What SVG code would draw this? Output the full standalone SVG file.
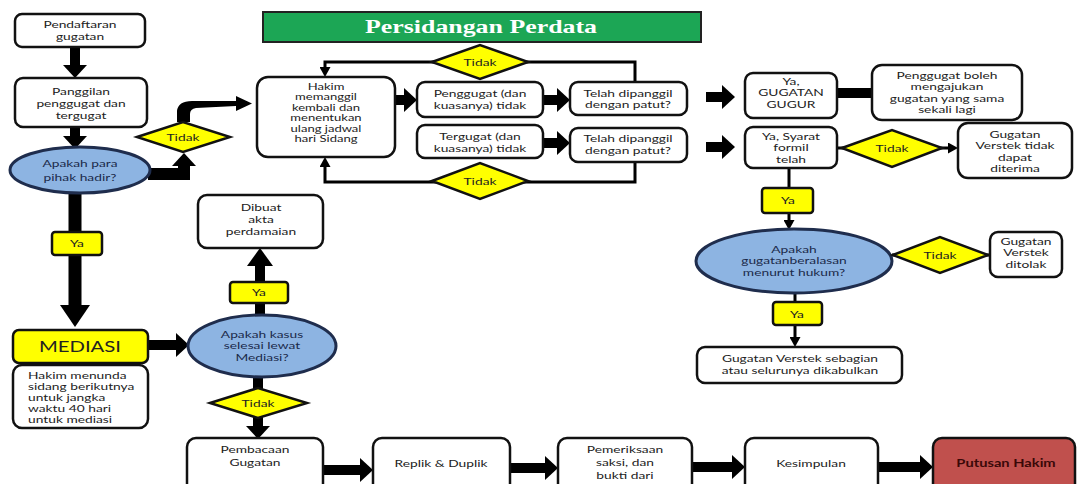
<svg xmlns="http://www.w3.org/2000/svg" width="1078" height="484" viewBox="0 0 1078 484">
<style>
.b{fill:#fff;stroke:#111;stroke-width:2.5}
.y{fill:#ffff00;stroke:#111;stroke-width:2.5}
.e{fill:#8db4e2;stroke:#1f2d4d;stroke-width:3}
.t{font-family:Lato,"Open Sans","DejaVu Sans",sans-serif;font-size:9.5px;fill:#222;text-anchor:middle}
.tl{text-anchor:start}
.te{fill:#1b2a4a}
.sm{font-size:8.7px}
.k{fill:none;stroke:#000;stroke-width:10}
.n{fill:none;stroke:#000;stroke-width:3}
</style>
<defs>
<marker id="hA" markerUnits="userSpaceOnUse" markerWidth="13" markerHeight="24" refX="0" refY="12" orient="auto"><path d="M0,0 L13,12 L0,24 z" fill="#000"/></marker>
<marker id="hB" markerUnits="userSpaceOnUse" markerWidth="22" markerHeight="30" refX="0" refY="15" orient="auto"><path d="M0,0 L22,15 L0,30 z" fill="#000"/></marker>
<marker id="hC" markerUnits="userSpaceOnUse" markerWidth="18" markerHeight="26" refX="0" refY="13" orient="auto"><path d="M0,0 L18,13 L0,26 z" fill="#000"/></marker>
<marker id="hT" markerUnits="userSpaceOnUse" markerWidth="10" markerHeight="11" refX="0" refY="5.5" orient="auto"><path d="M0,0 L10,5.5 L0,11 z" fill="#000"/></marker>
</defs>
<rect width="1078" height="484" fill="#fff"/>

<g id="connectors">
<line class="k" x1="75" y1="47" x2="75" y2="65" marker-end="url(#hA)"/>
<line class="k" x1="75" y1="127" x2="75" y2="136" marker-end="url(#hA)"/>
<path d="M148,174 H184 V166" fill="none" stroke="#000" stroke-width="12" marker-end="url(#hA)"/>
<path d="M177,122 L177,111 Q178,101 192,101 L236,101 L236,96 L252,103.5 L236,111 L236,106 L196,108 Q190,109 190,114 L190,122 Z" fill="#000"/>
<line x1="75" y1="193" x2="75" y2="305" stroke="#000" stroke-width="13" marker-end="url(#hB)"/>
<line class="k" x1="148" y1="345" x2="176" y2="345" stroke-width="9" marker-end="url(#hA)"/>
<line class="k" x1="260" y1="315" x2="260" y2="266" marker-end="url(#hC)"/>
<line class="k" x1="258" y1="377" x2="258" y2="426" marker-end="url(#hA)"/>
<line class="k" x1="323" y1="470" x2="360" y2="470" stroke-width="9" marker-end="url(#hA)"/>
<line class="k" x1="510" y1="468" x2="545" y2="468" stroke-width="9" marker-end="url(#hA)"/>
<line class="k" x1="692" y1="467" x2="732" y2="467" stroke-width="9" marker-end="url(#hA)"/>
<line class="k" x1="878" y1="467" x2="920" y2="467" stroke-width="9" marker-end="url(#hA)"/>
<line class="k" x1="395" y1="100" x2="404" y2="100" stroke-width="9" marker-end="url(#hA)"/>
<line class="k" x1="543" y1="100" x2="557" y2="100" stroke-width="9" marker-end="url(#hA)"/>
<line class="k" x1="543" y1="143" x2="557" y2="143" stroke-width="9" marker-end="url(#hA)"/>
<path class="n" d="M635,82 V62 H325 V67" marker-end="url(#hT)"/>
<path class="n" d="M635,162 V182 H325 V167" marker-end="url(#hT)"/>
<line class="k" x1="706" y1="97" x2="722" y2="97" stroke-width="9" marker-end="url(#hA)"/>
<line class="k" x1="706" y1="147" x2="722" y2="147" stroke-width="9" marker-end="url(#hA)"/>
<line class="k" x1="837" y1="93" x2="872" y2="93"/>
<line class="n" x1="837" y1="148" x2="948" y2="148" marker-end="url(#hT)"/>
<line class="n" x1="789" y1="168" x2="789" y2="220" marker-end="url(#hT)"/>
<line class="n" x1="892" y1="255" x2="990" y2="255"/>
<line class="n" x1="795" y1="293" x2="795" y2="337" marker-end="url(#hT)"/>
</g>

<g id="title">
<rect x="263" y="12" width="438" height="30" fill="#1ca655" stroke="#222" stroke-width="2"/>
<text x="481" y="33" font-family="'Liberation Serif',serif" font-weight="bold" font-size="19" fill="#fff" text-anchor="middle" textLength="232" lengthAdjust="spacingAndGlyphs">Persidangan Perdata</text>
</g>

<g id="pendaftaran">
<rect class="b" x="15" y="14" width="130" height="33" rx="7"/>
<g class="t" transform="translate(80 0) scale(1.45 1)">
<text y="28">Pendaftaran</text>
<text y="40">gugatan</text>
</g>
</g>

<g id="panggilan">
<rect class="b" x="15" y="78" width="132" height="49" rx="8"/>
<g class="t" transform="translate(81 0) scale(1.45 1)">
<text y="95">Panggilan</text>
<text y="107">penggugat dan</text>
<text y="119">tergugat</text>
</g>
</g>

<g id="hadir">
<ellipse class="e" cx="80" cy="170" rx="70" ry="23"/>
<g class="t te" transform="translate(80 0) scale(1.45 1)">
<text y="167">Apakah para</text>
<text y="181">pihak hadir?</text>
</g>
</g>

<g id="tidak1">
<polygon class="y" points="137,137 183,122 230,137 183,152"/>
<g class="t" transform="translate(183 0) scale(1.45 1)"><text y="141">Tidak</text></g>
</g>

<g id="ya1">
<rect class="y" x="52" y="232" width="50" height="23" rx="3"/>
<g class="t" transform="translate(77 0) scale(1.45 1)"><text y="247">Ya</text></g>
</g>

<g id="mediasi">
<rect class="y" x="13" y="330" width="135" height="33" rx="6"/>
<g class="t" transform="translate(80 0) scale(1.4 1)"><text y="352" style="font-size:14.5px">MEDIASI</text></g>
</g>

<g id="menunda">
<rect class="b" x="13" y="365" width="135" height="63" rx="9"/>
<g class="t tl" transform="translate(28 0) scale(1.45 1)">
<text y="379">Hakim menunda</text>
<text y="390">sidang berikutnya</text>
<text y="401">untuk jangka</text>
<text y="412">waktu 40 hari</text>
<text y="423">untuk mediasi</text>
</g>
</g>

<g id="dibuat">
<rect class="b" x="198" y="195" width="125" height="53" rx="9"/>
<g class="t" transform="translate(261 0) scale(1.45 1)">
<text y="211">Dibuat</text>
<text y="223">akta</text>
<text y="235">perdamaian</text>
</g>
</g>

<g id="ya2">
<rect class="y" x="230" y="282" width="58" height="21" rx="3"/>
<g class="t" transform="translate(259 0) scale(1.45 1)"><text y="296">Ya</text></g>
</g>

<g id="mediasiq">
<ellipse class="e" cx="262" cy="346" rx="74" ry="31"/>
<g class="t te" transform="translate(262 0) scale(1.45 1)">
<text y="338">Apakah kasus</text>
<text y="349.5">selesai lewat</text>
<text y="361">Mediasi?</text>
</g>
</g>

<g id="tidak2">
<polygon class="y" points="210,403 258,388 307,403 258,418"/>
<g class="t" transform="translate(258 0) scale(1.45 1)"><text y="407">Tidak</text></g>
</g>

<g id="pembacaan">
<rect class="b" x="187" y="438" width="136" height="60" rx="9"/>
<g class="t" transform="translate(255 0) scale(1.45 1)">
<text y="453">Pembacaan</text>
<text y="466">Gugatan</text>
</g>
</g>

<g id="replik">
<rect class="b" x="373" y="438" width="137" height="60" rx="9"/>
<g class="t" transform="translate(441 0) scale(1.45 1)"><text y="467">Replik &amp; Duplik</text></g>
</g>

<g id="pemeriksaan">
<rect class="b" x="558" y="438" width="134" height="60" rx="9"/>
<g class="t" transform="translate(625 0) scale(1.45 1)">
<text y="453">Pemeriksaan</text>
<text y="466">saksi, dan</text>
<text y="479">bukti dari</text>
</g>
</g>

<g id="kesimpulan">
<rect class="b" x="745" y="438" width="133" height="60" rx="9"/>
<g class="t" transform="translate(811 0) scale(1.45 1)"><text y="467">Kesimpulan</text></g>
</g>

<g id="putusan">
<rect x="933" y="438" width="142" height="60" rx="9" fill="#c0504d" stroke="#111" stroke-width="2.5"/>
<g class="t" transform="translate(1006 0) scale(1.4 1)"><text y="467" style="font-weight:bold;fill:#3a0808;font-size:10.5px">Putusan Hakim</text></g>
</g>

<g id="hakim">
<rect class="b" x="257" y="77" width="138" height="80" rx="11"/>
<g class="t sm" transform="translate(326 0) scale(1.5 1)">
<text y="90">Hakim</text>
<text y="100.5">memanggil</text>
<text y="111">kembali dan</text>
<text y="121.5">menentukan</text>
<text y="132">ulang jadwal</text>
<text y="142.5">hari Sidang</text>
</g>
</g>

<g id="penggugat">
<rect class="b" x="417" y="82" width="126" height="35" rx="8"/>
<g class="t" transform="translate(480 0) scale(1.45 1)">
<text y="97">Penggugat (dan</text>
<text y="109">kuasanya) tidak</text>
</g>
</g>

<g id="telah1">
<rect class="b" x="570" y="82" width="117" height="33" rx="8"/>
<g class="t" transform="translate(628 0) scale(1.45 1)">
<text y="97">Telah dipanggil</text>
<text y="108.5">dengan patut?</text>
</g>
</g>

<g id="tergugat">
<rect class="b" x="417" y="125" width="126" height="33" rx="8"/>
<g class="t" transform="translate(480 0) scale(1.45 1)">
<text y="140">Tergugat (dan</text>
<text y="152">kuasanya) tidak</text>
</g>
</g>

<g id="telah2">
<rect class="b" x="570" y="128" width="117" height="34" rx="8"/>
<g class="t" transform="translate(628 0) scale(1.45 1)">
<text y="142.5">Telah dipanggil</text>
<text y="154">dengan patut?</text>
</g>
</g>

<g id="tidak3">
<polygon class="y" points="432,62 480,45 528,62 480,79"/>
<g class="t" transform="translate(480 0) scale(1.45 1)"><text y="66">Tidak</text></g>
</g>

<g id="tidak4">
<polygon class="y" points="432,181 480,163 528,181 480,199"/>
<g class="t" transform="translate(480 0) scale(1.45 1)"><text y="185">Tidak</text></g>
</g>

<g id="gugur">
<rect class="b" x="745" y="73" width="92" height="45" rx="8"/>
<g class="t" transform="translate(791 0) scale(1.45 1)">
<text y="85">Ya,</text>
<text y="96.5">GUGATAN</text>
<text y="108">GUGUR</text>
</g>
</g>

<g id="boleh">
<rect class="b" x="872" y="65" width="150" height="55" rx="10"/>
<g class="t" transform="translate(947 0) scale(1.45 1)">
<text y="79">Penggugat boleh</text>
<text y="90.5">mengajukan</text>
<text y="102">gugatan yang sama</text>
<text y="113.5">sekali lagi</text>
</g>
</g>

<g id="syarat">
<rect class="b" x="745" y="127" width="92" height="41" rx="8"/>
<g class="t" transform="translate(791 0) scale(1.45 1)">
<text y="140">Ya, Syarat</text>
<text y="151.5">formil</text>
<text y="163">telah</text>
</g>
</g>

<g id="tidak5">
<polygon class="y" points="842,148 892,130 942,148 892,167"/>
<g class="t" transform="translate(892 0) scale(1.45 1)"><text y="152">Tidak</text></g>
</g>

<g id="tidakditerima">
<rect class="b" x="958" y="123" width="114" height="55" rx="10"/>
<g class="t" transform="translate(1015 0) scale(1.45 1)">
<text y="138">Gugatan</text>
<text y="149.5">Verstek tidak</text>
<text y="161">dapat</text>
<text y="172.5">diterima</text>
</g>
</g>

<g id="ya3">
<rect class="y" x="762" y="188" width="51" height="25" rx="3"/>
<g class="t" transform="translate(788 0) scale(1.45 1)"><text y="204">Ya</text></g>
</g>

<g id="beralasan">
<ellipse class="e" cx="794" cy="261" rx="98" ry="32"/>
<g class="t te" transform="translate(794 0) scale(1.45 1)">
<text y="253">Apakah</text>
<text y="264.5">gugatanberalasan</text>
<text y="276">menurut hukum?</text>
</g>
</g>

<g id="tidak6">
<polygon class="y" points="893,255 940,237 988,255 940,273"/>
<g class="t" transform="translate(940 0) scale(1.45 1)"><text y="259">Tidak</text></g>
</g>

<g id="ditolak">
<rect class="b" x="990" y="232" width="72" height="45" rx="8"/>
<g class="t" transform="translate(1026 0) scale(1.45 1)">
<text y="245">Gugatan</text>
<text y="256.5">Verstek</text>
<text y="268">ditolak</text>
</g>
</g>

<g id="ya4">
<rect class="y" x="773" y="302" width="49" height="23" rx="3"/>
<g class="t" transform="translate(797 0) scale(1.45 1)"><text y="318">Ya</text></g>
</g>

<g id="dikabulkan">
<rect class="b" x="697" y="347" width="205" height="36" rx="8"/>
<g class="t" transform="translate(800 0) scale(1.45 1)">
<text y="362">Gugatan Verstek sebagian</text>
<text y="374">atau selurunya dikabulkan</text>
</g>
</g>
</svg>
